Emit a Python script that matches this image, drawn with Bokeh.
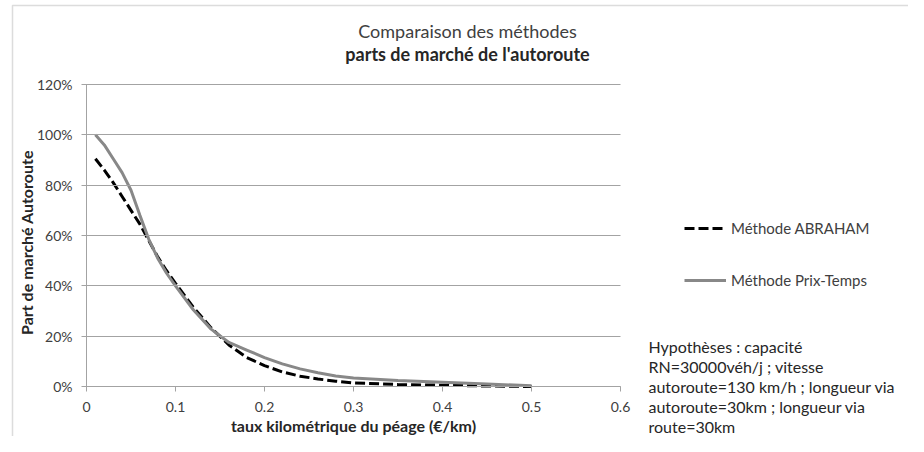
import math
from bokeh.plotting import figure
from bokeh.models import (Range1d, NumeralTickFormatter, FixedTicker, Legend,
                          LegendItem, Label, BoxAnnotation, ColumnDataSource)
from bokeh.embed import file_html
from bokeh.resources import INLINE

# ---- data ----
toll_rate = [0.01, 0.02, 0.03, 0.04, 0.05, 0.06, 0.07, 0.08, 0.09, 0.10,
             0.12, 0.14, 0.16, 0.18, 0.20, 0.22, 0.24, 0.26, 0.28, 0.30,
             0.35, 0.40, 0.45, 0.50]
share_abraham = [0.905, 0.86, 0.81, 0.755, 0.70, 0.645, 0.58, 0.515, 0.46, 0.41,
                 0.315, 0.233, 0.165, 0.115, 0.083, 0.058, 0.041, 0.030, 0.021, 0.014,
                 0.008, 0.005, 0.002, 0.0]
share_prix_temps = [1.00, 0.96, 0.905, 0.85, 0.78, 0.68, 0.585, 0.51, 0.45, 0.40,
                    0.305, 0.228, 0.175, 0.145, 0.115, 0.090, 0.070, 0.055, 0.042, 0.034,
                    0.024, 0.017, 0.010, 0.003]

x_ticks = [0, 0.1, 0.2, 0.3, 0.4, 0.5, 0.6]
y_ticks = [0, 0.2, 0.4, 0.6, 0.8, 1.0, 1.2]

title_line1 = "Comparaison des méthodes"
title_line2 = "parts de marché de l'autoroute"
x_title = "taux kilométrique du péage (€/km)"
y_title = "Part de marché Autoroute"
series_names = ["Méthode ABRAHAM", "Méthode Prix-Temps"]
hypotheses = ["Hypothèses : capacité",
              "RN=30000véh/j ; vitesse",
              "autoroute=130 km/h ; longueur via",
              "autoroute=30km ; longueur via",
              "route=30km"]

# ---- layout (pixels) ----
W, H = 908, 436
LEFT, TOP, BOTTOM = 86, 84, 386      # data area: x 86..620, y 84..386
PLOT_W = 534
X_MAX, Y_MAX = x_ticks[-1], y_ticks[-1]
px_per_y = (BOTTOM - TOP) / Y_MAX
px_per_x = PLOT_W / X_MAX
# the frame covers the whole canvas so that legend and notes are not clipped;
# both axes are pinned at 0 and bounded to the data area
x_start = -LEFT / px_per_x
x_end = (W - LEFT) / px_per_x
y_start = -(H - BOTTOM) / px_per_y
y_end = Y_MAX + TOP / px_per_y

FONT = "Lato"
GRID = "#a3a3a3"
TXT = "#404040"
DARK = "#262626"

src = ColumnDataSource(dict(x=toll_rate, a=share_abraham, p=share_prix_temps))

p = figure(width=W, height=H, output_backend="svg", toolbar_location=None,
           x_range=Range1d(x_start, x_end), y_range=Range1d(y_start, y_end),
           min_border_left=0, min_border_right=0, min_border_top=0,
           min_border_bottom=0)
p.outline_line_color = None
p.background_fill_color = "white"
p.border_fill_color = "white"
p.grid.visible = False

# chart-area border (left and top edges visible, as in the reference)
p.add_layout(BoxAnnotation(left=12, right=W + 30, top=H - 5, bottom=-30,
                           left_units="screen", right_units="screen",
                           top_units="screen", bottom_units="screen",
                           fill_alpha=0, line_color="#8c8c8c", line_width=1.5,
                           level="underlay"))

# axes
xa, ya = p.xaxis[0], p.yaxis[0]
xa.ticker = FixedTicker(ticks=x_ticks)
ya.ticker = FixedTicker(ticks=y_ticks)
xa.formatter = NumeralTickFormatter(format="0.[0]")
ya.formatter = NumeralTickFormatter(format="0%")
xa.bounds = (0, X_MAX)
ya.bounds = (0, Y_MAX)
xa.fixed_location = 0
ya.fixed_location = 0
for ax in (xa, ya):
    ax.axis_line_color = GRID
    ax.major_tick_line_color = GRID
    ax.minor_tick_line_color = None
    ax.major_tick_out = 5
    ax.major_label_text_font = FONT
    ax.major_label_text_font_size = "14px"
    ax.major_label_text_color = TXT
    ax.axis_label_text_font = FONT
    ax.axis_label_text_font_size = "16px"
    ax.axis_label_text_font_style = "bold"
    ax.axis_label_text_color = DARK
xa.major_tick_in = 0
ya.major_tick_in = PLOT_W          # y ticks drawn across the plot = gridlines
xa.axis_label = x_title
ya.major_label_standoff = 9
xa.major_label_standoff = 10
xa.axis_label_standoff = 1

# y axis title (rotated), centred on the data area
p.add_layout(Label(x=26, y=H - 242, x_units="screen", y_units="screen",
                   text=y_title, angle=math.pi / 2, text_align="center",
                   text_baseline="middle", text_font=FONT, text_font_size="16px",
                   text_font_style="bold", text_color=DARK))

# series
r_a = p.line("x", "a", source=src, line_color="black", line_width=3,
             line_dash="10 4")
r_p = p.line("x", "p", source=src, line_color="#888888", line_width=3)

legend = Legend(items=[LegendItem(label=series_names[0], renderers=[r_a]),
                       LegendItem(label=series_names[1], renderers=[r_p])],
                location=(684, 146), orientation="vertical",
                glyph_width=42, glyph_height=20, label_height=20,
                label_standoff=5, spacing=32, padding=0, margin=0,
                border_line_color=None, background_fill_alpha=0,
                label_text_font=FONT, label_text_font_size="15px",
                label_text_color=TXT)
p.add_layout(legend)

# titles
p.add_layout(Label(x=467, y=H - 30, x_units="screen", y_units="screen",
                   text=title_line1, text_align="center", text_baseline="middle",
                   text_font=FONT, text_font_size="18px", text_color=TXT))
p.add_layout(Label(x=467, y=H - 53, x_units="screen", y_units="screen",
                   text=title_line2, text_align="center", text_baseline="middle",
                   text_font=FONT, text_font_size="18px", text_font_style="bold",
                   text_color=DARK))

# hypotheses notes
for i, line in enumerate(hypotheses):
    p.add_layout(Label(x=648, y=H - 346 - 20 * i, x_units="screen", y_units="screen",
                       text=line, text_align="left", text_baseline="middle",
                       text_font=FONT, text_font_size="16px", text_color=DARK))

open("out.html", "w").write(file_html(p, INLINE))
